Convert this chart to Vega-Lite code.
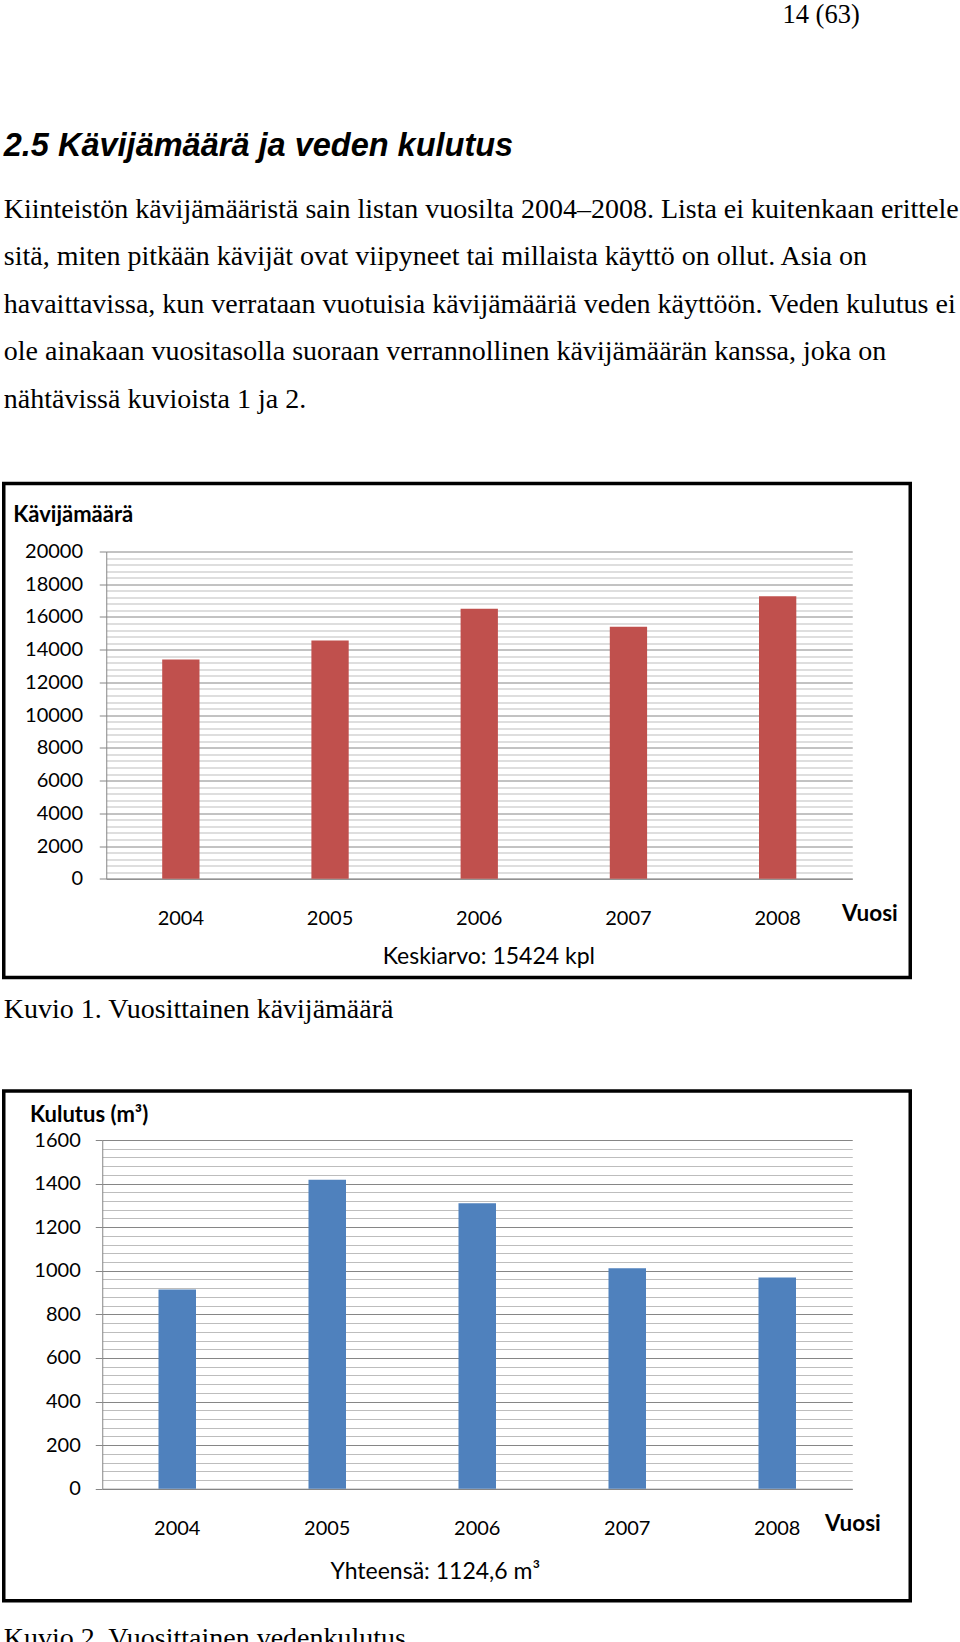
{
  "$schema": "https://vega.github.io/schema/vega-lite/v6.json",
  "background": "white",
  "padding": {"left": 1.75, "top": 1, "right": 0, "bottom": 0},
  "spacing": 16.75,
  "config": {
    "view": {"stroke": null},
    "font": "Lato"
  },
  "vconcat": [
    {
      "width": 856,
      "height": 84.75,
      "data": {"values": []},
      "mark": "rule",
      "encoding": {},
      "title": {
        "text": "14 (63)",
        "anchor": "end",
        "frame": "group",
        "orient": "top",
        "offset": 0,
        "font": "Liberation Serif",
        "fontSize": 26.5,
        "fontWeight": "normal",
        "color": "black"
      }
    },
    {
      "width": 906.5,
      "height": 50.5,
      "data": {"values": []},
      "mark": "rule",
      "encoding": {},
      "title": {
        "text": "2.5 Kävijämäärä ja veden kulutus",
        "subtitle": [
          "Kiinteistön kävijämääristä sain listan vuosilta 2004–2008. Lista ei kuitenkaan erittele",
          "sitä, miten pitkään kävijät ovat viipyneet tai millaista käyttö on ollut. Asia on",
          "havaittavissa, kun verrataan vuotuisia kävijämääriä veden käyttöön. Veden kulutus ei",
          "ole ainakaan vuositasolla suoraan verrannollinen kävijämäärän kanssa, joka on",
          "nähtävissä kuvioista 1 ja 2."
        ],
        "anchor": "start",
        "frame": "group",
        "orient": "top",
        "offset": 0,
        "font": "Liberation Sans",
        "fontSize": 32.5,
        "fontWeight": "bold",
        "fontStyle": "italic",
        "color": "black",
        "subtitleFont": "Liberation Serif",
        "subtitleFontSize": 28,
        "subtitleFontWeight": "normal",
        "subtitleFontStyle": "normal",
        "subtitleColor": "black",
        "subtitleLineHeight": 47.5,
        "subtitlePadding": 33.5
      }
    },
    {
      "width": 906.5,
      "height": 494,
      "view": {"stroke": "black", "strokeWidth": 3.5},
      "data": {
        "values": [
          {"Vuosi": "2004", "Kavijamaara": 13400},
          {"Vuosi": "2005", "Kavijamaara": 14560},
          {"Vuosi": "2006", "Kavijamaara": 16500},
          {"Vuosi": "2007", "Kavijamaara": 15400},
          {"Vuosi": "2008", "Kavijamaara": 17260}
        ]
      },
      "mark": {"type": "bar", "color": "#C0504D"},
      "encoding": {
        "x": {
          "field": "Vuosi",
          "type": "ordinal",
          "scale": {"range": [102.5, 848.5], "paddingInner": 0.75, "paddingOuter": 0.375},
          "axis": {
            "orient": "bottom",
            "offset": -98.7,
            "labelAngle": 0,
            "ticks": false,
            "tickSize": 0,
            "labelPadding": 29.7,
            "labelFont": "Lato",
            "labelFontSize": 20,
            "labelColor": "black",
            "domainColor": "#868686",
            "domainWidth": 1,
            "grid": false,
            "title": "Vuosi",
            "titleX": 893.5,
            "titleY": 41.7,
            "titleAlign": "right",
            "titleBaseline": "alphabetic",
            "titleAngle": 0,
            "titleFont": "Lato",
            "titleFontSize": 22.5,
            "titleFontWeight": "bold",
            "titleColor": "black"
          }
        },
        "y": {
          "field": "Kavijamaara",
          "type": "quantitative",
          "scale": {"domain": [0, 20000], "range": [395.3, 68], "nice": false},
          "axis": {
            "offset": -102.5,
            "values": [0, 400, 800, 1200, 1600, 2000, 2400, 2800, 3200, 3600, 4000, 4400, 4800, 5200, 5600, 6000, 6400, 6800, 7200, 7600, 8000, 8400, 8800, 9200, 9600, 10000, 10400, 10800, 11200, 11600, 12000, 12400, 12800, 13200, 13600, 14000, 14400, 14800, 15200, 15600, 16000, 16400, 16800, 17200, 17600, 18000, 18400, 18800, 19200, 19600, 20000],
            "labelExpr": "datum.value % 2000 === 0 ? datum.value : ''",
            "labelOverlap": false,
            "labelFont": "Lato",
            "labelFontSize": 20,
            "labelColor": "black",
            "labelPadding": 16.7,
            "tickSize": 7,
            "tickColor": "#868686",
            "tickOpacity": {"condition": {"test": "datum.value % 2000 === 0", "value": 1}, "value": 0},
            "domainColor": "#868686",
            "domainWidth": 1,
            "grid": true,
            "gridWidth": 1,
            "gridColor": {"condition": {"test": "datum.value % 2000 === 0", "value": "#868686"}, "value": "#bdbdbd"},
            "title": "Kävijämäärä",
            "titleAngle": 0,
            "titleX": -93.5,
            "titleY": 37.5,
            "titleAlign": "left",
            "titleBaseline": "alphabetic",
            "titleFont": "Lato",
            "titleFontSize": 22,
            "titleFontWeight": "bold",
            "titleColor": "black"
          }
        }
      },
      "title": {
        "text": "Keskiarvo: 15424 kpl",
        "orient": "bottom",
        "anchor": "middle",
        "frame": "group",
        "offset": -31.35,
        "dx": 31.85,
        "font": "Lato",
        "fontSize": 23,
        "fontWeight": "normal",
        "color": "black"
      }
    },
    {
      "width": 906.5,
      "height": 47.3,
      "data": {"values": []},
      "mark": "rule",
      "encoding": {},
      "title": {
        "text": "Kuvio 1. Vuosittainen kävijämäärä",
        "anchor": "start",
        "frame": "group",
        "orient": "top",
        "offset": 0,
        "font": "Liberation Serif",
        "fontSize": 28,
        "fontWeight": "normal",
        "color": "black"
      }
    },
    {
      "width": 906.5,
      "height": 509.7,
      "view": {"stroke": "black", "strokeWidth": 3.5},
      "data": {
        "values": [
          {"Vuosi": "2004", "Kulutus": 914},
          {"Vuosi": "2005", "Kulutus": 1418},
          {"Vuosi": "2006", "Kulutus": 1310},
          {"Vuosi": "2007", "Kulutus": 1012},
          {"Vuosi": "2008", "Kulutus": 969}
        ]
      },
      "mark": {"type": "bar", "color": "#4F81BD"},
      "encoding": {
        "x": {
          "field": "Vuosi",
          "type": "ordinal",
          "scale": {"range": [98.5, 848.5], "paddingInner": 0.75, "paddingOuter": 0.375},
          "axis": {
            "orient": "bottom",
            "offset": -112,
            "labelAngle": 0,
            "ticks": false,
            "tickSize": 0,
            "labelPadding": 29.7,
            "labelFont": "Lato",
            "labelFontSize": 20,
            "labelColor": "black",
            "domainColor": "#868686",
            "domainWidth": 1,
            "grid": false,
            "title": "Vuosi",
            "titleX": 876.5,
            "titleY": 42,
            "titleAlign": "right",
            "titleBaseline": "alphabetic",
            "titleAngle": 0,
            "titleFont": "Lato",
            "titleFontSize": 22.5,
            "titleFontWeight": "bold",
            "titleColor": "black"
          }
        },
        "y": {
          "field": "Kulutus",
          "type": "quantitative",
          "scale": {"domain": [0, 1600], "range": [397.7, 49], "nice": false},
          "axis": {
            "offset": -98.5,
            "values": [0, 40, 80, 120, 160, 200, 240, 280, 320, 360, 400, 440, 480, 520, 560, 600, 640, 680, 720, 760, 800, 840, 880, 920, 960, 1000, 1040, 1080, 1120, 1160, 1200, 1240, 1280, 1320, 1360, 1400, 1440, 1480, 1520, 1560, 1600],
            "labelExpr": "datum.value % 200 === 0 ? datum.value : ''",
            "labelOverlap": false,
            "labelFont": "Lato",
            "labelFontSize": 20,
            "labelColor": "black",
            "labelPadding": 15,
            "tickSize": 7,
            "tickColor": "#868686",
            "tickOpacity": {"condition": {"test": "datum.value % 200 === 0", "value": 1}, "value": 0},
            "domainColor": "#868686",
            "domainWidth": 1,
            "grid": true,
            "gridWidth": 1,
            "gridColor": {"condition": {"test": "datum.value % 200 === 0", "value": "#868686"}, "value": "#bdbdbd"},
            "title": "Kulutus (m³)",
            "titleAngle": 0,
            "titleX": -72.7,
            "titleY": 30.2,
            "titleAlign": "left",
            "titleBaseline": "alphabetic",
            "titleFont": "Lato",
            "titleFontSize": 22,
            "titleFontWeight": "bold",
            "titleColor": "black"
          }
        }
      },
      "title": {
        "text": "Yhteensä: 1124,6 m³",
        "orient": "bottom",
        "anchor": "middle",
        "frame": "group",
        "offset": -39.45,
        "dx": -21.75,
        "font": "Lato",
        "fontSize": 23,
        "fontWeight": "normal",
        "color": "black"
      }
    },
    {
      "width": 906.5,
      "height": 1,
      "data": {"values": []},
      "mark": "rule",
      "encoding": {},
      "title": {
        "text": "Kuvio 2. Vuosittainen vedenkulutus",
        "anchor": "start",
        "frame": "group",
        "orient": "bottom",
        "offset": 4.5,
        "font": "Liberation Serif",
        "fontSize": 28,
        "fontWeight": "normal",
        "color": "black"
      }
    }
  ]
}
